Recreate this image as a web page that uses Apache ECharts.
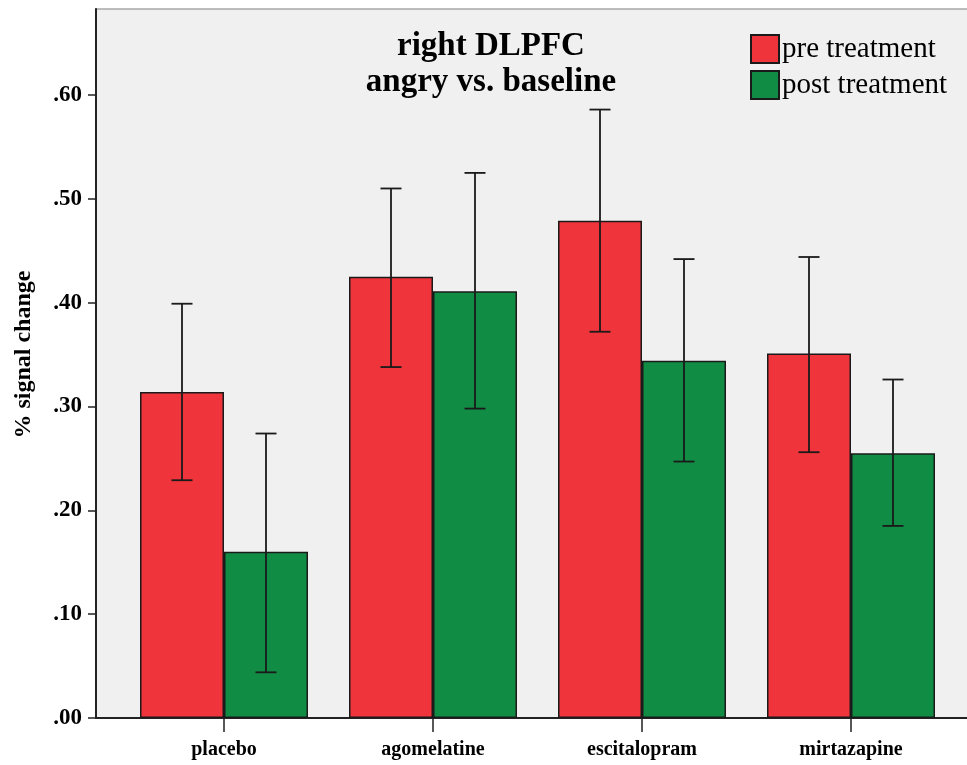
<!DOCTYPE html>
<html>
<head>
<meta charset="utf-8">
<script src="https://cdn.jsdelivr.net/npm/echarts@6/dist/echarts.min.js"></script>
<style>
html,body{margin:0;padding:0;background:#fff;}
#chart{width:967px;height:765px;}
</style>
</head>
<body>
<div id="chart"></div>
<script>
var categories = ['placebo', 'agomelatine', 'escitalopram', 'mirtazapine'];
var preValues = [0.314, 0.425, 0.479, 0.351];
var preLow = [0.229, 0.338, 0.372, 0.256];
var preHigh = [0.399, 0.510, 0.586, 0.444];
var postValues = [0.160, 0.411, 0.344, 0.255];
var postLow = [0.044, 0.298, 0.247, 0.185];
var postHigh = [0.274, 0.525, 0.442, 0.326];
var yTicks = [0, 0.1, 0.2, 0.3, 0.4, 0.5, 0.6];

var BAR_W = 84;
var serif = '"Liberation Serif", "Times New Roman", serif';

function errSeries(name, low, high, side) {
  return {
    type: 'custom',
    name: name + ' err',
    xAxisIndex: 1, yAxisIndex: 1,
    z: 5,
    silent: true,
    data: categories.map(function (c, i) { return [i, low[i], high[i]]; }),
    renderItem: function (params, api) {
      var lo = api.coord([api.value(0), api.value(1)]);
      var hi = api.coord([api.value(0), api.value(2)]);
      var x = lo[0] + side * BAR_W / 2;
      var cap = 10.5;
      var st = { stroke: '#1a1a1a', lineWidth: 1.8 };
      return {
        type: 'group',
        children: [
          { type: 'line', shape: { x1: x, y1: lo[1], x2: x, y2: hi[1] }, style: st },
          { type: 'line', shape: { x1: x - cap, y1: lo[1], x2: x + cap, y2: lo[1] }, style: st },
          { type: 'line', shape: { x1: x - cap, y1: hi[1], x2: x + cap, y2: hi[1] }, style: st }
        ]
      };
    }
  };
}

var chart = echarts.init(document.getElementById('chart'));
chart.setOption({
  animation: false,
  backgroundColor: '#ffffff',
  title: {
    text: 'right DLPFC\nangry vs. baseline',
    left: 486,
    top: 23,
    textAlign: 'center',
    textStyle: { fontFamily: serif, fontSize: 33, fontWeight: 'bold', color: '#000', lineHeight: 36 }
  },
  legend: {
    orient: 'vertical',
    left: 750,
    top: 34,
    padding: 0,
    itemWidth: 28,
    itemHeight: 28,
    itemGap: 6,
    icon: 'rect',
    data: ['pre treatment', 'post treatment'],
    textStyle: { fontFamily: serif, fontSize: 29, color: '#000', padding: [0, 0, 0, -2] }
  },
  grid: [
    { left: 96, right: -2, top: 9, bottom: 47, show: true, outerBoundsMode: 'none', containLabel: false,
      backgroundColor: '#f0f0f0', borderColor: '#a8a8a8', borderWidth: 1.5 },
    { left: 119.5, right: 11.5, top: -8.8, bottom: 47, outerBoundsMode: 'none', containLabel: false }
  ],
  xAxis: [
    { gridIndex: 0, type: 'value', min: 0, max: 1,
      axisLine: { show: true, lineStyle: { color: '#222', width: 2 } },
      axisTick: { show: false }, axisLabel: { show: false }, splitLine: { show: false } },
    { gridIndex: 1, type: 'category', data: categories,
      axisLine: { show: false },
      axisTick: { show: true, alignWithLabel: true, length: 14, lineStyle: { color: '#222', width: 1.5 } },
      axisLabel: { fontFamily: serif, fontSize: 20, fontWeight: 'bold', color: '#000', margin: 22 } }
  ],
  yAxis: [
    { gridIndex: 0, type: 'value', min: 0, max: 1,
      axisLine: { show: true, lineStyle: { color: '#222', width: 2 } },
      axisTick: { show: false }, axisLabel: { show: false }, splitLine: { show: false } },
    { gridIndex: 1, type: 'value', min: 0, max: 0.7, interval: 0.1, offset: 23.5,
      name: '% signal change', nameLocation: 'middle', nameRotate: 90, nameGap: 60,
      nameTextStyle: { fontFamily: serif, fontSize: 24, fontWeight: 'bold', color: '#000' },
      axisLine: { show: false },
      axisTick: { show: true, length: 8, lineStyle: { color: '#222', width: 1.5 } },
      splitLine: { show: false },
      axisLabel: { fontFamily: serif, fontSize: 23, fontWeight: 'bold', color: '#000', margin: 14,
        formatter: function (v) {
          for (var i = 0; i < yTicks.length; i++) {
            if (Math.abs(yTicks[i] - v) < 1e-6) return yTicks[i].toFixed(2).replace(/^0/, '');
          }
          return '';
        } }
    }
  ],
  series: [
    { name: 'pre treatment', type: 'bar', xAxisIndex: 1, yAxisIndex: 1, data: preValues,
      barWidth: BAR_W, barGap: '0%',
      itemStyle: { color: '#f0343b', borderColor: '#1a1a1a', borderWidth: 1.5 } },
    { name: 'post treatment', type: 'bar', xAxisIndex: 1, yAxisIndex: 1, data: postValues,
      barWidth: BAR_W, barGap: '0%',
      itemStyle: { color: '#118c45', borderColor: '#1a1a1a', borderWidth: 1.5 } },
    errSeries('pre', preLow, preHigh, -1),
    errSeries('post', postLow, postHigh, 1)
  ]
});
</script>
</body>
</html>
